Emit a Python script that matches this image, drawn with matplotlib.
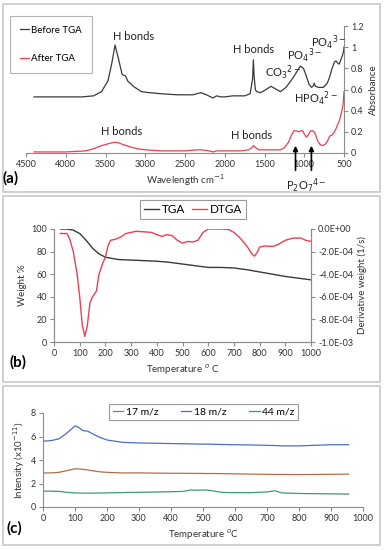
import numpy as np
import matplotlib.pyplot as plt
from matplotlib.patches import Rectangle

plt.rcParams['font.family'] = ['Lato', 'DejaVu Sans']

# ---------------- datos (a): FTIR ----------------
wn_antes = [4400, 3800, 3650, 3550, 3470, 3420, 3380, 3340, 3290, 3250, 3220, 3150,
            3050, 2950, 2800, 2600, 2400, 2300, 2230, 2150, 2100, 2050, 2000, 1900,
            1750, 1680, 1650, 1640, 1630, 1615, 1600, 1550, 1480, 1420, 1370, 1300,
            1230, 1150, 1100, 1050, 1010, 980, 940, 910, 890, 875, 860, 820, 760,
            710, 680, 650, 620, 600, 580, 560, 540, 520, 505, 500]
abs_antes = [0.53, 0.53, 0.54, 0.58, 0.68, 0.85, 1.02, 0.90, 0.74, 0.73, 0.68, 0.63,
             0.58, 0.57, 0.56, 0.55, 0.55, 0.57, 0.55, 0.52, 0.54, 0.53, 0.53, 0.54,
             0.54, 0.56, 0.70, 0.88, 0.72, 0.60, 0.58, 0.57, 0.60, 0.63, 0.61, 0.58,
             0.62, 0.70, 0.76, 0.82, 0.80, 0.74, 0.65, 0.62, 0.63, 0.66, 0.63, 0.62,
             0.62, 0.66, 0.72, 0.80, 0.86, 0.87, 0.85, 0.84, 0.88, 0.92, 0.96, 1.00]

wn_despues = [4400, 4000, 3750, 3650, 3550, 3450, 3400, 3350, 3280, 3200, 3100, 3000,
              2800, 2500, 2350, 2300, 2200, 2150, 2100, 2000, 1800, 1700, 1660, 1640,
              1610, 1570, 1450, 1300, 1250, 1200, 1160, 1130, 1100, 1070, 1040, 1020,
              1000, 975, 950, 920, 890, 860, 830, 800, 770, 740, 710, 680, 650, 620,
              600, 580, 560, 540, 520, 510, 500]
abs_despues = [0.01, 0.01, 0.02, 0.04, 0.07, 0.09, 0.10, 0.10, 0.08, 0.06, 0.04, 0.03,
               0.02, 0.02, 0.03, 0.03, 0.02, 0.01, 0.02, 0.02, 0.02, 0.03, 0.05, 0.07,
               0.05, 0.03, 0.03, 0.03, 0.05, 0.10, 0.17, 0.21, 0.21, 0.20, 0.21, 0.21,
               0.18, 0.15, 0.17, 0.21, 0.21, 0.18, 0.11, 0.08, 0.07, 0.08, 0.11, 0.16,
               0.17, 0.20, 0.23, 0.27, 0.30, 0.36, 0.42, 0.47, 0.58]

# ---------------- datos (b): TGA / DTGA ----------------
temp_tga = [25, 50, 75, 100, 125, 150, 175, 200, 225, 250, 300, 350, 400, 450, 500,
            550, 600, 650, 700, 750, 800, 850, 900, 950, 1000]
peso_tga = [100, 100, 99, 96, 90, 83, 78, 75, 74, 73, 72.5, 72, 71.5, 70.5, 69,
            67.5, 66, 66, 65.5, 64, 62, 60, 58, 56.5, 55]

temp_dtga = [25, 50, 60, 75, 90, 100, 110, 120, 130, 140, 150, 165, 175, 190, 200,
             210, 220, 240, 260, 280, 300, 320, 350, 380, 400, 420, 440, 460, 480,
             500, 520, 540, 560, 580, 600, 650, 680, 700, 720, 750, 770, 780, 790,
             800, 820, 850, 870, 900, 930, 960, 980, 1000]
deriv_dtga = [-0.4e-4, -0.4e-4, -0.8e-4, -2.0e-4, -4.0e-4, -6.0e-4, -8.5e-4, -9.5e-4,
              -8.5e-4, -6.5e-4, -6.0e-4, -5.5e-4, -4.0e-4, -3.0e-4, -2.5e-4, -1.5e-4,
              -1.0e-4, -0.9e-4, -0.7e-4, -0.4e-4, -0.3e-4, -0.2e-4, -0.25e-4, -0.3e-4,
              -0.5e-4, -0.65e-4, -0.5e-4, -0.6e-4, -1.0e-4, -1.25e-4, -1.1e-4,
              -1.15e-4, -1.0e-4, -0.3e-4, 0.0, 0.0, -0.05e-4, -0.3e-4, -0.7e-4,
              -1.5e-4, -2.2e-4, -2.4e-4, -2.1e-4, -1.6e-4, -1.5e-4, -1.55e-4,
              -1.4e-4, -1.0e-4, -0.8e-4, -0.8e-4, -1.0e-4, -1.1e-4]

# ---------------- datos (c): masas ----------------
temp_ms = [0, 25, 50, 75, 100, 110, 125, 140, 150, 175, 200, 250, 300, 400, 440,
           460, 480, 510, 530, 560, 600, 650, 700, 725, 745, 800, 900, 955]
masa_17 = [2.9, 2.9, 2.95, 3.1, 3.25, 3.25, 3.2, 3.15, 3.1, 3.0, 2.95, 2.9, 2.9, 2.87,
           2.87, 2.86, 2.86, 2.85, 2.85, 2.84, 2.82, 2.8, 2.78, 2.77, 2.77, 2.76,
           2.78, 2.8]
masa_18 = [5.6, 5.65, 5.8, 6.3, 6.9, 6.8, 6.5, 6.45, 6.3, 5.95, 5.7, 5.5, 5.45, 5.4,
           5.38, 5.37, 5.36, 5.35, 5.34, 5.32, 5.3, 5.28, 5.25, 5.23, 5.2, 5.2, 5.3,
           5.3]
masa_44 = [1.35, 1.35, 1.33, 1.25, 1.2, 1.19, 1.18, 1.18, 1.18, 1.19, 1.2, 1.23, 1.25,
           1.3, 1.33, 1.45, 1.42, 1.45, 1.38, 1.24, 1.22, 1.22, 1.28, 1.38, 1.2, 1.15,
           1.12, 1.1]

W, H = 385, 550
fig = plt.figure(figsize=(W / 100, H / 100), dpi=100)


def caja(x0, y0, x1, y1):
    # recuadro gris de cada panel (en pixeles)
    fig.patches.append(Rectangle((x0 / W, 1 - y1 / H), (x1 - x0) / W, (y1 - y0) / H,
                                 transform=fig.transFigure, fill=False,
                                 edgecolor='#c8c8c8', lw=1.2))


def ejes(x0, y0, x1, y1):
    return fig.add_axes([x0 / W, 1 - y1 / H, (x1 - x0) / W, (y1 - y0) / H])


gris = '#8c8c8c'
fs_tick = 6.5
fs_lab = 7

caja(3, 4, 380, 192)
caja(3, 196, 380, 382)
caja(3, 386, 380, 545)

# ---------------- panel (a) ----------------
ax1 = ejes(26, 26, 344, 153)
ax1.plot(wn_antes, abs_antes, color='#3a3a3a', lw=0.9, label='Before TGA')
ax1.plot(wn_despues, abs_despues, color='#f03c50', lw=0.9, label='After TGA')
ax1.set_xlim(4500, 500)
ax1.set_ylim(0, 1.2)
ax1.yaxis.tick_right()
ax1.yaxis.set_label_position('right')
ax1.set_yticks([0, 0.2, 0.4, 0.6, 0.8, 1.0, 1.2])
ax1.set_yticklabels(['0', '0.2', '0.4', '0.6', '0.8', '1', '1.2'])
ax1.set_xticks(range(4500, 499, -500))
for s in ['top', 'left']:
    ax1.spines[s].set_visible(False)
for s in ['bottom', 'right']:
    ax1.spines[s].set_color(gris)
ax1.tick_params(colors=gris, labelcolor='#333333', labelsize=fs_tick, length=3, pad=2)
ax1.set_ylabel('Absorbance', fontsize=fs_lab, color='#333333', labelpad=4)
ax1.set_xlabel('Wavelength cm$^{-1}$', fontsize=fs_lab, color='#333333', labelpad=2)
ley = ax1.legend(loc='upper left', bbox_to_anchor=(10 / W, 1 - 16 / H),
                 bbox_transform=fig.transFigure, fontsize=7, frameon=True,
                 fancybox=False, edgecolor='#a0a0a0', handlelength=1.0,
                 handletextpad=0.2, labelspacing=2.0, borderpad=1.0, borderaxespad=0)
ley.get_frame().set_linewidth(0.8)

anot = dict(fontsize=8, color='#222222', ha='center', va='center')
ax1.text(3150, 1.1, 'H bonds', **anot)
ax1.text(1635, 0.98, 'H bonds', **anot)
ax1.text(1270, 0.76, 'CO$_3$$^{2-}$', **anot)
ax1.text(1000, 0.92, 'PO$_4$$^{3-}$', **anot)
ax1.text(700, 1.04, 'PO$_4$$^{3-}$', **anot)
ax1.text(860, 0.51, 'HPO$_4$$^{2-}$', **anot)
ax1.text(3300, 0.2, 'H bonds', **anot)
ax1.text(1660, 0.17, 'H bonds', **anot)
fig.text(306 / W, 1 - 186 / H, 'P$_2$O$_7$$^{4-}$', fontsize=8, color='#222222',
         ha='center', va='center')
for xf in [1110, 910]:
    ax1.annotate('', xy=(xf, 0.095), xytext=(xf, -0.19), annotation_clip=False,
                 arrowprops=dict(arrowstyle='-|>', color='black', lw=1.2,
                                 mutation_scale=7))
fig.text(11 / W, 1 - 178 / H, '(a)', fontsize=11, fontweight='bold',
         ha='center', va='center')

# ---------------- panel (b) ----------------
ax2 = ejes(54, 229, 311, 342)
l1, = ax2.plot(temp_tga, peso_tga, color='#3a3a3a', lw=1.0, label='TGA')
ax2.set_xlim(0, 1000)
ax2.set_ylim(0, 100)
ax2.set_xticks(range(0, 1001, 100))
ax2.set_yticks(range(0, 101, 20))
ax2b = ax2.twinx()
l2, = ax2b.plot(temp_dtga, deriv_dtga, color='#f03c50', lw=1.0, label='DTGA')
ax2b.set_ylim(-1.0e-3, 0)
ax2b.set_yticks(np.linspace(-1.0e-3, 0, 6))
ax2b.set_yticklabels(['-1.0E-03', '-8.0E-04', '-6.0E-04', '-4.0E-04', '-2.0E-04',
                      '0.0E+00'])
for a in [ax2, ax2b]:
    a.spines['top'].set_visible(False)
    for s in ['bottom', 'left', 'right']:
        a.spines[s].set_color(gris)
    a.tick_params(colors=gris, labelcolor='#333333', labelsize=fs_tick, length=3, pad=2)
ax2.set_ylabel('Weight %', fontsize=fs_lab, color='#333333', labelpad=3)
ax2b.set_ylabel('Derivative weight (1/s)', fontsize=fs_lab, color='#333333', labelpad=3)
ax2.set_xlabel('Temperature $^{o}$ C', fontsize=fs_lab, color='#333333', labelpad=3)
ley2 = ax2.legend([l1, l2], ['TGA', 'DTGA'], loc='center',
                  bbox_to_anchor=(193 / W, 1 - 209.5 / H), bbox_transform=fig.transFigure,
                  ncol=2, fontsize=8.5, fancybox=False, edgecolor='#808080',
                  handlelength=1.3, handletextpad=0.2, columnspacing=0.6,
                  borderpad=0.3)
ley2.get_frame().set_linewidth(0.8)
fig.text(18 / W, 1 - 362 / H, '(b)', fontsize=11, fontweight='bold',
         ha='center', va='center')

# ---------------- panel (c) ----------------
ax3 = ejes(43, 413, 363, 507)
ax3.plot(temp_ms, masa_17, color='#b46e46', lw=0.9, label='17 m/z')
ax3.plot(temp_ms, masa_18, color='#4f6ccc', lw=0.9, label='18 m/z')
ax3.plot(temp_ms, masa_44, color='#3c9a74', lw=0.9, label='44 m/z')
ax3.set_xlim(0, 1000)
ax3.set_ylim(0, 8)
ax3.set_xticks(range(0, 1001, 100))
ax3.set_yticks(range(0, 9, 2))
for s in ['top', 'right']:
    ax3.spines[s].set_visible(False)
for s in ['bottom', 'left']:
    ax3.spines[s].set_color(gris)
ax3.tick_params(colors=gris, labelcolor='#333333', labelsize=fs_tick, length=3, pad=2)
ax3.set_ylabel('Intensity (x10$^{-11}$)', fontsize=fs_lab, color='#333333', labelpad=3)
ax3.set_xlabel('Temperature $^{o}$C', fontsize=fs_lab, color='#333333', labelpad=3)
ley3 = ax3.legend(loc='center', bbox_to_anchor=(203.5 / W, 1 - 412 / H),
                  bbox_transform=fig.transFigure, ncol=3, fontsize=7.5,
                  fancybox=False, edgecolor='#808080', handlelength=1.0,
                  handletextpad=0.2, columnspacing=2.2, borderpad=0.35,
                  borderaxespad=0)
ley3.get_frame().set_linewidth(0.8)
fig.text(14 / W, 1 - 528 / H, '(c)', fontsize=11, fontweight='bold',
         ha='center', va='center')

fig.savefig('out.png', dpi=100)
